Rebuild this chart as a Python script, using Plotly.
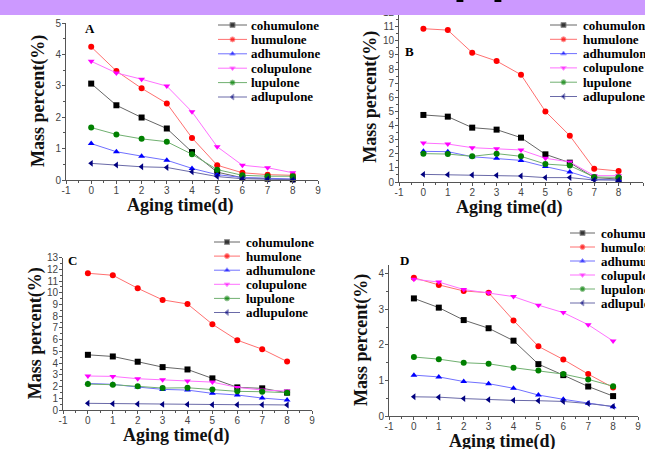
import plotly.graph_objects as go

W, H = 645, 449

days = [0, 1, 2, 3, 4, 5, 6, 7, 8]
compounds = ["cohumulone", "humulone", "adhumulone", "colupulone", "lupulone", "adlupulone"]

# Panel A
A_cohumulone = [3.07, 2.38, 1.99, 1.64, 0.89, 0.25, 0.07, 0.04, 0.02]
A_humulone = [4.24, 3.47, 2.92, 2.44, 1.34, 0.47, 0.23, 0.17, 0.15]
A_adhumulone = [1.16, 0.90, 0.76, 0.63, 0.37, 0.17, 0.08, 0.05, 0.03]
A_colupulone = [3.78, 3.41, 3.21, 2.99, 2.17, 1.06, 0.47, 0.39, 0.23]
A_lupulone = [1.67, 1.45, 1.31, 1.22, 0.82, 0.33, 0.15, 0.12, 0.12]
A_adlupulone = [0.53, 0.48, 0.42, 0.40, 0.26, 0.11, 0.04, 0.03, 0.01]

# Panel B
B_cohumulone = [4.75, 4.63, 3.85, 3.71, 3.14, 1.96, 1.37, 0.31, 0.21]
B_humulone = [10.86, 10.76, 9.16, 8.57, 7.60, 5.00, 3.28, 0.94, 0.78]
B_adhumulone = [2.17, 2.15, 1.79, 1.68, 1.53, 1.09, 0.71, 0.19, 0.14]
B_colupulone = [2.76, 2.69, 2.43, 2.36, 2.27, 1.68, 1.42, 0.45, 0.45]
B_lupulone = [2.01, 1.98, 1.82, 2.01, 1.82, 1.27, 1.16, 0.35, 0.33]
B_adlupulone = [0.54, 0.52, 0.50, 0.47, 0.42, 0.31, 0.31, 0.14, 0.14]

# Panel C
C_cohumulone = [4.71, 4.57, 4.12, 3.66, 3.46, 2.70, 1.93, 1.85, 1.48]
C_humulone = [11.67, 11.50, 10.39, 9.40, 9.05, 7.32, 5.96, 5.19, 4.14]
C_adhumulone = [2.27, 2.19, 1.96, 1.76, 1.70, 1.42, 1.28, 1.02, 0.85]
C_colupulone = [2.90, 2.87, 2.67, 2.58, 2.47, 2.38, 1.93, 1.70, 1.62]
C_lupulone = [2.21, 2.16, 2.02, 1.87, 1.90, 1.76, 1.59, 1.56, 1.48]
C_adlupulone = [0.57, 0.54, 0.51, 0.48, 0.48, 0.45, 0.45, 0.45, 0.43]

# Panel D
D_cohumulone = [3.31, 3.05, 2.70, 2.47, 2.12, 1.46, 1.15, 0.83, 0.56]
D_humulone = [3.89, 3.69, 3.52, 3.47, 2.69, 1.96, 1.59, 1.18, 0.80]
D_adhumulone = [1.15, 1.10, 0.97, 0.91, 0.78, 0.59, 0.47, 0.36, 0.26]
D_colupulone = [3.85, 3.77, 3.56, 3.47, 3.36, 3.12, 2.91, 2.57, 2.11]
D_lupulone = [1.66, 1.60, 1.50, 1.47, 1.36, 1.28, 1.18, 1.03, 0.84]
D_adlupulone = [0.54, 0.53, 0.49, 0.46, 0.44, 0.43, 0.41, 0.35, 0.27]

panel_labels = ["A", "B", "C", "D"]
x_title = "Aging time(d)"
y_title = "Mass percent(%)"
x_ticks = [-1, 0, 1, 2, 3, 4, 5, 6, 7, 8, 9]
x_ticktext = ["-1", "0", "1", "2", "3", "4", "5", "6", "7", "8", "9"]

series = {
    "A": [A_cohumulone, A_humulone, A_adhumulone, A_colupulone, A_lupulone, A_adlupulone],
    "B": [B_cohumulone, B_humulone, B_adhumulone, B_colupulone, B_lupulone, B_adlupulone],
    "C": [C_cohumulone, C_humulone, C_adhumulone, C_colupulone, C_lupulone, C_adlupulone],
    "D": [D_cohumulone, D_humulone, D_adhumulone, D_colupulone, D_lupulone, D_adlupulone],
}

# styles
marker_colors = ["#000000", "#ff0000", "#0000ff", "#ff00ff", "#008000", "#000080"]
line_colors = ["#666666", "#ff7070", "#7070ff", "#ff70ff", "#70b070", "#6a6aa8"]
symbols = ["square", "circle", "triangle-up", "triangle-down", "circle", "triangle-left"]

# panel geometry in pixels: left, right, top, bottom, ymax
geom = {
    "A": dict(l=66, r=318, t=23, b=180, ymax=5),
    "B": dict(l=399, r=643, t=12.6, b=182, ymax=12),
    "C": dict(l=63, r=312, t=257.7, b=410, ymax=13),
    "D": dict(l=389, r=638, t=265, b=416, ymax=4.25),
}
legend_pos = {
    "A": dict(x0=218, x1=247, tx=249, y0=25, dy=14.4),
    "B": dict(x0=550, x1=577, tx=581, y0=25, dy=14.3),
    "C": dict(x0=214, x1=240, tx=244, y0=242, dy=14.1),
    "D": dict(x0=570, x1=595, tx=599, y0=233, dy=14.0),
}
letter_pos = {"A": (89.5, 28), "B": (409.5, 52), "C": (72.5, 260), "D": (404, 260)}

serif = "Liberation Serif"
sans = "Liberation Sans"

fig = go.Figure()
layout = {}
annotations = []

for i, p in enumerate(panel_labels):
    g = geom[p]
    xa = "xaxis" if i == 0 else f"xaxis{i+1}"
    ya = "yaxis" if i == 0 else f"yaxis{i+1}"
    xr = "x" if i == 0 else f"x{i+1}"
    yr = "y" if i == 0 else f"y{i+1}"
    for k, name in enumerate(compounds):
        fig.add_trace(go.Scatter(
            x=days, y=series[p][k], mode="lines+markers", name=name,
            xaxis=xr, yaxis=yr, showlegend=False, cliponaxis=False,
            line=dict(color=line_colors[k], width=1),
            marker=dict(color=marker_colors[k], symbol=symbols[k], size=6),
        ))
    axcommon = dict(showline=True, linecolor="#555555", linewidth=1, ticks="outside",
                    ticklen=3, tickcolor="#555555", showgrid=False, zeroline=False,
                    tickfont=dict(family=sans, size=10, color="#444444"))
    layout[xa] = dict(domain=[g["l"] / W, g["r"] / W], range=[-1, 9], anchor=yr,
                      tickvals=x_ticks, ticktext=x_ticktext, ticklabelstandoff=-2,
                      minor=dict(dtick=0.5, ticks="outside", ticklen=2, tickcolor="#555555"),
                      **axcommon)
    layout[ya] = dict(domain=[1 - g["b"] / H, 1 - g["t"] / H], range=[0, g["ymax"]], anchor=xr,
                      dtick=1, ticklabelstandoff=-1,
                      minor=dict(dtick=0.5, ticks="outside", ticklen=2, tickcolor="#555555"),
                      **axcommon)
    # axis titles
    annotations.append(dict(text=f"<b>{y_title}</b>", xref="paper", yref="paper",
                            x=(g["l"] - 28) / W, y=1 - ((g["t"] + g["b"]) / 2 - 0.5) / H,
                            textangle=-90, showarrow=False, xanchor="center", yanchor="middle",
                            font=dict(family=serif, size=18, color="#111111")))
    annotations.append(dict(text=f"<b>{x_title}</b>", xref="paper", yref="paper",
                            x=((g["l"] + g["r"]) / 2 - 11.5) / W, y=1 - (g["b"] + 25) / H,
                            showarrow=False, xanchor="center", yanchor="middle",
                            font=dict(family=serif, size=18, color="#111111")))
    lx, ly = letter_pos[p]
    annotations.append(dict(text=f"<b>{p}</b>", xref="paper", yref="paper",
                            x=lx / W, y=1 - ly / H, showarrow=False,
                            xanchor="center", yanchor="middle",
                            font=dict(family=serif, size=13, color="#000000")))
    # legend labels
    lp = legend_pos[p]
    for k, name in enumerate(compounds):
        yy = lp["y0"] + k * lp["dy"]
        annotations.append(dict(text=f"<b>{name}</b>", xref="paper", yref="paper",
                                x=lp["tx"] / W, y=1 - yy / H, showarrow=False,
                                xanchor="left", yanchor="middle",
                                font=dict(family=serif, size=13, color="#000000")))
        fig.add_trace(go.Scatter(
            x=[lp["x0"], (lp["x0"] + lp["x1"]) / 2, lp["x1"]], y=[yy, yy, yy],
            mode="lines+markers", xaxis="x5", yaxis="y5", showlegend=False,
            hoverinfo="skip", cliponaxis=False,
            line=dict(color=line_colors[k], width=1),
            marker=dict(color=marker_colors[k], symbol=symbols[k], size=[0, 5, 0]),
        ))

layout["xaxis5"] = dict(domain=[0, 1], range=[0, W], visible=False, anchor="y5")
layout["yaxis5"] = dict(domain=[0, 1], range=[H, 0], visible=False, anchor="x5")

# top banner with cut-off heading text
shapes = [dict(type="rect", xref="paper", yref="paper", x0=0, x1=1, y0=1 - 15 / H, y1=1.05,
               fillcolor="#cc99ff", line=dict(width=0), layer="above")]
for px in (451, 489):
    annotations.append(dict(text="<b>p</b>", xref="paper", yref="paper", x=px / W,
                            y=1 - 8 / H, yshift=3, xanchor="left", yanchor="bottom",
                            showarrow=False,
                            font=dict(family=sans, size=50, color="#000000")))

fig.update_layout(
    width=W, height=H, margin=dict(l=0, r=0, t=0, b=0, autoexpand=False),
    paper_bgcolor="white", plot_bgcolor="rgba(0,0,0,0)",
    showlegend=False, annotations=annotations, shapes=shapes, **layout,
)
fig.write_html("out.html", config={"displayModeBar": False},
               post_script="document.body.style.margin='0';document.body.style.overflow='hidden';")
